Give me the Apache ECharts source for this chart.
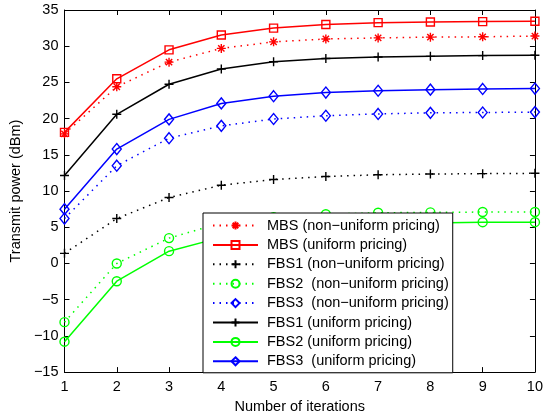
<!DOCTYPE html>
<html>
<head>
<meta charset="utf-8">
<script src="https://cdn.jsdelivr.net/npm/echarts@6/dist/echarts.min.js"></script>
<style>html,body{margin:0;padding:0;background:#fff}#c{width:546px;height:419px}</style>
</head>
<body>
<div id="c"></div>
<script>
var iterations = [1, 2, 3, 4, 5, 6, 7, 8, 9, 10];
var mbsNonUniform  = [17.9, 24.4, 27.8, 29.7, 30.6, 31.0, 31.15, 31.25, 31.3, 31.4];
var mbsUniform     = [18.1, 25.5, 29.5, 31.55, 32.5, 33.0, 33.25, 33.35, 33.4, 33.45];
var fbs1NonUniform = [1.4, 6.2, 9.1, 10.8, 11.6, 12.0, 12.25, 12.35, 12.4, 12.45];
var fbs2NonUniform = [-8.1, 0.0, 3.5, 5.6, 6.4, 6.8, 7.0, 7.05, 7.1, 7.1];
var fbs3NonUniform = [6.2, 13.5, 17.3, 19.0, 19.95, 20.4, 20.65, 20.8, 20.85, 20.9];
var fbs1Uniform    = [12.15, 20.6, 24.75, 26.85, 27.85, 28.3, 28.5, 28.6, 28.7, 28.75];
var fbs2Uniform    = [-10.8, -2.45, 1.7, 3.6, 4.6, 5.1, 5.4, 5.6, 5.7, 5.7];
var fbs3Uniform    = [7.5, 15.8, 19.9, 22.1, 23.1, 23.6, 23.85, 24.0, 24.1, 24.15];
var seriesNames = [
  'MBS (non\u2212uniform pricing)',
  'MBS (uniform pricing)',
  'FBS1 (non\u2212uniform pricing)',
  'FBS2  (non\u2212uniform pricing)',
  'FBS3  (non\u2212uniform pricing)',
  'FBS1 (uniform pricing)',
  'FBS2 (uniform pricing)',
  'FBS3  (uniform pricing)'
];
var xLabel = 'Number of iterations';
var yLabel = 'Transmit power (dBm)';

var FONT = '"Liberation Sans", Arial, Helvetica, sans-serif';
var PLUS = 'path://M0,5L10,5M5,0L5,10';
var STAR = 'path://M0,5L10,5M5,0L5,10M1.5,1.5L8.5,8.5M8.5,1.5L1.5,8.5';
var DOT = [1.5, 5];

function pairs(vals) { return iterations.map(function (x, i) { return [x, vals[i]]; }); }
function mk(name, vals, color, dashed, symbol, size) {
  return {
    name: name, type: 'line', data: pairs(vals),
    symbol: symbol, symbolSize: size, showSymbol: true, clip: false,
    lineStyle: { color: color, width: 1.5, type: dashed ? DOT : 'solid' },
    itemStyle: { color: 'rgba(0,0,0,0)', borderColor: color, borderWidth: 1.4 },
    emphasis: { disabled: true },
    z: 3
  };
}

var series = [
  mk(seriesNames[0], mbsNonUniform, '#ff0000', true, STAR, 9),
  mk(seriesNames[1], mbsUniform, '#ff0000', false, 'rect', 8),
  mk(seriesNames[2], fbs1NonUniform, '#000000', true, PLUS, 9),
  mk(seriesNames[3], fbs2NonUniform, '#00ff00', true, 'circle', 9),
  mk(seriesNames[4], fbs3NonUniform, '#0000ff', true, 'diamond', [9, 11]),
  mk(seriesNames[5], fbs1Uniform, '#000000', false, PLUS, 9),
  mk(seriesNames[6], fbs2Uniform, '#00ff00', false, 'circle', 9),
  mk(seriesNames[7], fbs3Uniform, '#0000ff', false, 'diamond', [9, 11])
];

function axisCommon(extra) {
  var a = {
    axisLine: { show: true, onZero: false, lineStyle: { color: '#000', width: 1 } },
    axisTick: { show: true, inside: true, length: 5, lineStyle: { color: '#000', width: 1 } },
    splitLine: { show: false },
    axisLabel: { color: '#000', fontSize: 14.5, fontFamily: FONT }
  };
  for (var k in extra) a[k] = extra[k];
  return a;
}

var chart = echarts.init(document.getElementById('c'), null, { renderer: 'canvas' });
chart.setOption({
  animation: false,
  backgroundColor: '#fff',
  grid: { left: 60, right: 7, top: 10, bottom: 37, containLabel: false },
  xAxis: [
    axisCommon({ type: 'value', min: 1, max: 10, interval: 1, position: 'bottom',
      name: xLabel, nameLocation: 'middle', nameGap: 23,
      nameTextStyle: { color: '#000', fontSize: 14.5, fontFamily: FONT },
      axisLabel: { color: '#000', fontSize: 14.5, fontFamily: FONT, margin: 7 } }),
    axisCommon({ type: 'value', min: 1, max: 10, interval: 1, position: 'top',
      axisLabel: { show: false } })
  ],
  yAxis: [
    axisCommon({ type: 'value', min: -15, max: 35, interval: 5, position: 'left',
      name: yLabel, nameLocation: 'middle', nameGap: 37, nameRotate: 90,
      nameTextStyle: { color: '#000', fontSize: 14.5, fontFamily: FONT },
      axisLabel: { color: '#000', fontSize: 14.5, fontFamily: FONT, margin: 6,
        formatter: function (v) { return String(v).replace('-', '\u2212'); } } }),
    axisCommon({ type: 'value', min: -15, max: 35, interval: 5, position: 'right',
      axisLabel: { show: false } })
  ],
  legend: {
    orient: 'vertical', left: 203, top: 213,
    padding: [5, 4, 4, 9],
    itemWidth: 45, itemHeight: 10, itemGap: 4.4,
    backgroundColor: '#fff', borderColor: '#000', borderWidth: 1,
    selectedMode: false,
    textStyle: { color: '#000', fontSize: 14.5, fontFamily: FONT, lineHeight: 14, padding: [0, 0, 0, 4] },
    data: seriesNames
  },
  series: series
});
</script>
</body>
</html>
